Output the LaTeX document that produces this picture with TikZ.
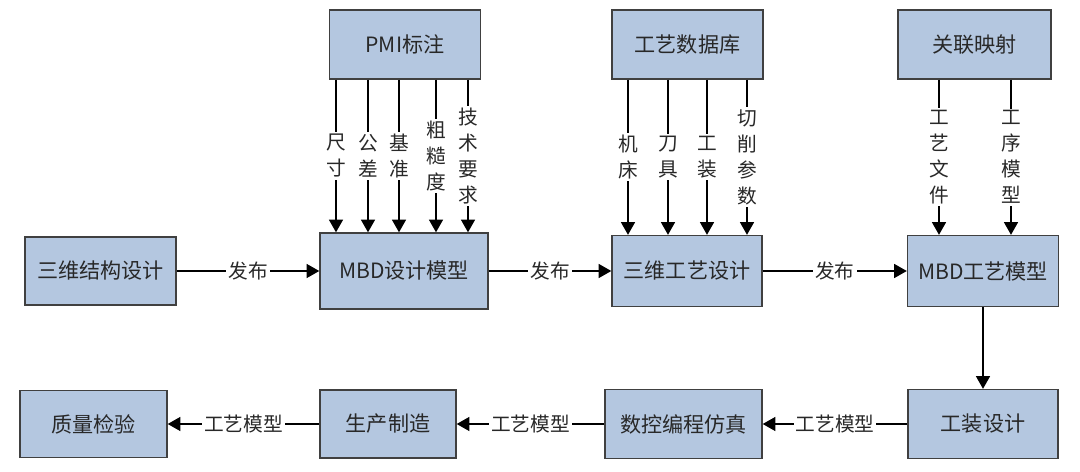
\documentclass[tikz,border=0pt]{standalone}
\usepackage{fontspec}
\setmainfont{Noto Sans CJK SC}
\usetikzlibrary{arrows.meta,positioning,calc}
\definecolor{boxfill}{RGB}{180,199,224}
\definecolor{boxline}{RGB}{64,64,64}
\definecolor{txt}{RGB}{40,40,40}

\begin{document}
\begin{tikzpicture}[x=0.025cm, y=-0.025cm, >={Triangle[length=9pt,width=10pt]}, line width=0.8pt, text=txt]
\tikzstyle{block}=[draw=boxline, fill=boxfill, line width=1pt, inner sep=0pt, font=\fontsize{15}{18}\selectfont]
\tikzstyle{tag}=[fill=white, inner sep=1.5pt, align=center, font=\fontsize{14}{18.5}\selectfont]
\useasboundingbox (0,0) rectangle (1080,472);
% top row
\node[block, minimum width=3.775cm, minimum height=1.725cm] (pmi)  at (405,44.5)   {PMI标注};
\node[block, minimum width=3.775cm, minimum height=1.725cm] (db)   at (687.5,44.5) {工艺数据库};
\node[block, minimum width=3.825cm, minimum height=1.725cm] (map)  at (974.5,44.5) {关联映射};
% middle row
\node[block, minimum width=3.775cm, minimum height=1.7cm]   (struct) at (100.5,271) {三维结构设计};
\node[block, minimum width=4.2cm,   minimum height=1.9cm]   (mbd)    at (404,271)   {MBD设计模型};
\node[block, minimum width=3.75cm,  minimum height=1.775cm] (proc)   at (687,271)   {三维工艺设计};
\node[block, minimum width=3.775cm, minimum height=1.775cm] (mbdp)   at (983,271)   {MBD工艺模型};
% bottom row
\node[block, minimum width=3.75cm,  minimum height=1.725cm] (fixt) at (983,424)   {工装设计};
\node[block, minimum width=3.925cm, minimum height=1.725cm] (nc)   at (683.5,424) {数控编程仿真};
\node[block, minimum width=3.4cm,   minimum height=1.7cm]   (prod) at (388,424)   {生产制造};
\node[block, minimum width=3.675cm, minimum height=1.675cm] (qc)   at (93.5,424)  {质量检验};

\foreach \x/\t in {336/{尺\\寸}, 368/{公\\差}, 399/{基\\准}, 436/{粗\\糙\\度}, 468/{技\\术\\要\\求}}
  \draw[->] (pmi.south -| \x,0) -- node[tag] {\t} (mbd.north -| \x,0);
\foreach \x/\t in {628/{机\\床}, 668/{刀\\具}, 707/{工\\装}, 747/{切\\削\\参\\数}}
  \draw[->] (db.south -| \x,0) -- node[tag] {\t} (proc.north -| \x,0);
\foreach \x/\t in {939/{工\\艺\\文\\件}, 1011/{工\\序\\模\\型}}
  \draw[->] (map.south -| \x,0) -- node[tag] {\t} (mbdp.north -| \x,0);

\draw[->] (struct) -- node[tag] {发布} (mbd);
\draw[->] (mbd) -- node[tag] {发布} (proc);
\draw[->] (proc) -- node[tag] {发布} (mbdp);
\draw[->] (mbdp) -- (fixt);
\draw[->] (fixt) -- node[tag] {工艺模型} (nc);
\draw[->] (nc) -- node[tag] {工艺模型} (prod);
\draw[->] (prod) -- node[tag] {工艺模型} (qc);
\end{tikzpicture}
\end{document}
